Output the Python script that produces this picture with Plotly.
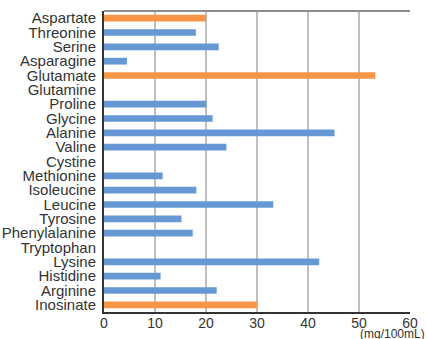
import plotly.graph_objects as go

amino_acids = ['Aspartate', 'Threonine', 'Serine', 'Asparagine', 'Glutamate',
               'Glutamine', 'Proline', 'Glycine', 'Alanine', 'Valine', 'Cystine',
               'Methionine', 'Isoleucine', 'Leucine', 'Tyrosine', 'Phenylalanine',
               'Tryptophan', 'Lysine', 'Histidine', 'Arginine', 'Inosinate']
amounts = [20, 18, 22.5, 4.5, 53.2, 0, 20.1, 21.3, 45.2, 24, 0,
           11.5, 18.1, 33.2, 15.2, 17.4, 0, 42.2, 11.1, 22.1, 30]
umami = ['Aspartate', 'Glutamate', 'Inosinate']
x_ticks = [0, 10, 20, 30, 40, 50, 60]

BLUE = '#6699d4'
ORANGE = '#f79646'
colors = [ORANGE if a in umami else BLUE for a in amino_acids]

fig = go.Figure()

fig.add_trace(go.Bar(
    x=amounts,
    y=amino_acids,
    orientation='h',
    marker=dict(color=colors, line=dict(width=0)),
    showlegend=False
))

# top border of the plot area
fig.add_shape(type='line', xref='paper', yref='paper', x0=0, x1=1, y0=1, y1=1,
              line=dict(color='#8c8c8c', width=2))

fig.add_annotation(
    text='(mg/100mL)', xref='paper', yref='paper', x=1.056, y=-0.043,
    xanchor='right', yanchor='top', showarrow=False,
    font=dict(size=12, color='#333333')
)

fig.update_layout(
    width=427,
    height=339,
    margin=dict(l=104, r=17, t=11, b=27),
    paper_bgcolor='white',
    plot_bgcolor='white',
    bargap=0.53,
    font=dict(family='Liberation Sans', size=14, color='#333333'),
    xaxis=dict(
        range=[0, 60],
        tickvals=x_ticks,
        showgrid=True,
        gridcolor='#bfbfbf',
        gridwidth=1.5,
        zeroline=False,
        showline=True,
        linecolor='#333333',
        linewidth=2,
        tickfont=dict(size=14),
        ticks='',
        ticklabelstandoff=-3,
        automargin=False,
        fixedrange=True
    ),
    yaxis=dict(
        categoryorder='array',
        categoryarray=amino_acids,
        tickmode='array',
        tickvals=amino_acids,
        autorange='reversed',
        showline=True,
        linecolor='#333333',
        linewidth=2,
        showgrid=False,
        ticks='',
        ticklabelstandoff=3,
        automargin=False,
        fixedrange=True,
        tickfont=dict(size=15)
    )
)

fig.write_html("out.html", config={'displayModeBar': False},
               post_script="document.body.style.margin='0';")
